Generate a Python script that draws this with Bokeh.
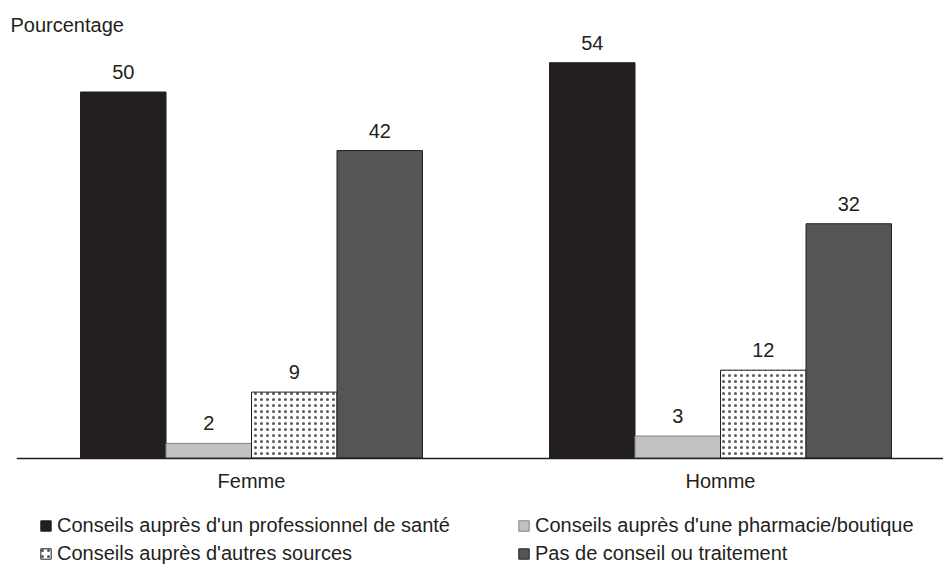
from bokeh.plotting import figure
from bokeh.models import ColumnDataSource, Range1d, FixedTicker, Legend, LegendItem
from bokeh.core.properties import value
from bokeh.embed import file_html
from bokeh.resources import INLINE

# ---- data ----
categories = ["Femme", "Homme"]
series_names = [
    "Conseils auprès d'un professionnel de santé",
    "Conseils auprès d'une pharmacie/boutique",
    "Conseils auprès d'autres sources",
    "Pas de conseil ou traitement",
]
professionnel = [50, 54]
pharmacie = [2, 3]
autres_sources = [9, 12]
aucun_conseil = [42, 32]
y_title = "Pourcentage"

# ---- styling / layout ----
FONT = "Liberation Sans"
TXT = "#231f20"
fills = ["#231f20", "#c1c2c4", "#ffffff", "#545556"]
lines = ["#231f20", "#808285", "#231f20", "#231f20"]
hatches = [None, None, "dot", None]

W, H = 943, 564
MB_LEFT, MB_RIGHT, MB_TOP, MB_BOTTOM = 16, 0, 35, 0
BASE_PX = 457.5          # baseline position in page pixels
PX_PER_CAT = 469.0
PX_PER_UNIT = 7.32
BAR_W = 85.5 / PX_PER_CAT
offsets = [-1.5 * BAR_W, -0.5 * BAR_W, 0.5 * BAR_W, 1.5 * BAR_W]

frame_w = W - MB_LEFT - MB_RIGHT
x_start = -(251 - 16) / PX_PER_CAT
x_end = x_start + frame_w / PX_PER_CAT
y_start = -(H - MB_BOTTOM - BASE_PX) / PX_PER_UNIT
y_end = (BASE_PX - MB_TOP) / PX_PER_UNIT

p = figure(width=W, height=H, x_range=Range1d(x_start, x_end), y_range=Range1d(y_start, y_end),
           output_backend="svg", toolbar_location=None, y_axis_location=None,
           min_border_left=MB_LEFT, min_border_right=MB_RIGHT,
           min_border_top=MB_TOP, min_border_bottom=MB_BOTTOM)
p.outline_line_color = None
p.xgrid.visible = False
p.ygrid.visible = False
p.background_fill_color = "white"

p.title.text = y_title
p.title.align = "left"
p.title.offset = -6
p.title.standoff = 0
p.title.text_font = FONT
p.title.text_font_size = "20px"
p.title.text_font_style = "normal"
p.title.text_color = TXT

all_series = [professionnel, pharmacie, autres_sources, aucun_conseil]
items = []
for k, vals in enumerate(all_series):
    src = ColumnDataSource(dict(
        x=[i + offsets[k] for i in range(len(categories))],
        top=vals,
        label=[str(v) for v in vals],
    ))
    kw = dict(fill_color=fills[k], line_color=lines[k], line_width=1)
    if hatches[k]:
        kw.update(hatch_pattern=hatches[k], hatch_scale=6, hatch_weight=1.0, hatch_color="#5a5a5a")
    r = p.vbar(x="x", top="top", bottom=0, width=BAR_W, source=src, **kw)
    p.text(x="x", y="top", text="label", source=src, text_align="center",
           text_baseline="alphabetic", y_offset=-20, text_font=value(FONT),
           text_font_size="20px", text_color=TXT)
    items.append(LegendItem(label=series_names[k], renderers=[r]))

ax = p.xaxis[0]
ax.fixed_location = 0
ax.ticker = FixedTicker(ticks=list(range(len(categories))))
ax.major_label_overrides = {i: c for i, c in enumerate(categories)}
ax.major_tick_in = 0
ax.major_tick_out = 0
ax.minor_tick_in = 0
ax.minor_tick_out = 0
ax.major_label_standoff = 12
ax.major_label_text_font = FONT
ax.major_label_text_font_size = "20px"
ax.major_label_text_color = TXT
ax.axis_line_color = TXT
ax.axis_line_width = 1.5

# legend laid out column-major: reorder so that rows read 1,2 / 3,4
legend_items = [items[0], items[2], items[1], items[3]]
legend = Legend(items=legend_items, location=(23, -1), orientation="vertical", ncols=2,
                border_line_color=None, background_fill_alpha=0, padding=0, margin=0,
                spacing=5, label_standoff=5, glyph_width=13, glyph_height=13,
                label_height=22, label_width=455, label_text_font=FONT,
                label_text_font_size="20px", label_text_color=TXT,
                label_text_baseline="middle")
p.add_layout(legend)

open("out.html", "w").write(file_html(p, INLINE))
